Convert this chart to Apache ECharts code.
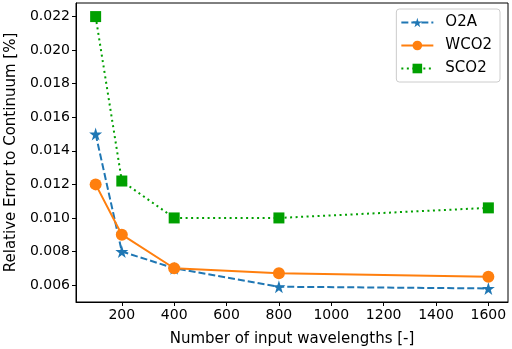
<!DOCTYPE html>
<html>
<head>
<meta charset="utf-8">
<script src="https://cdn.jsdelivr.net/npm/echarts@6/dist/echarts.min.js"></script>
<style>
  html, body { margin: 0; padding: 0; background: #fff; }
  #chart { width: 512px; height: 349px; }
</style>
</head>
<body>
<div id="chart"></div>
<script>
  // data
  const wavelengths = [100, 200, 400, 800, 1600];
  const o2a = [0.015, 0.008, 0.007, 0.0059, 0.0058];
  const wco2 = [0.012, 0.009, 0.007, 0.0067, 0.0065];
  const sco2 = [0.022, 0.0122, 0.010, 0.010, 0.0106];
  const xTicks = [200, 400, 600, 800, 1000, 1200, 1400, 1600];
  const yTicks = [0.006, 0.008, 0.010, 0.012, 0.014, 0.016, 0.018, 0.020, 0.022];

  const starPath = 'path://M50,0 L61,35 L98,35 L68,57 L79,91 L50,70 L21,91 L32,57 L2,35 L39,35 Z';
  const font = 'DejaVu Sans';

  const pairs = (ys) => wavelengths.map((x, i) => [x, ys[i]]);

  const chart = echarts.init(document.getElementById('chart'));

  const option = {
    animation: false,
    textStyle: { fontFamily: font },
    grid: {
      left: 76, right: 4, top: 3, bottom: 47,
      outerBoundsMode: 'none',
      containLabel: false,
      show: true, borderColor: '#000', borderWidth: 1,
    },
    legend: {
      orient: 'vertical',
      right: 12,
      top: 9,
      itemWidth: 32,
      itemHeight: 12,
      itemGap: 8,
      padding: [6, 8, 6, 4],
      borderColor: '#ccc',
      borderWidth: 1,
      borderRadius: 3,
      textStyle: { fontFamily: font, fontSize: 15, color: '#000', padding: [0, 0, 0, 7] },
      data: ['O2A', 'WCO2', 'SCO2'],
    },
    xAxis: {
      type: 'value',
      min: 25,
      max: 1675,
      name: 'Number of input wavelengths [-]',
      nameLocation: 'middle',
      nameGap: 30,
      nameTextStyle: { fontFamily: font, fontSize: 15, color: '#000' },
      axisLine: { show: true, lineStyle: { color: '#000', width: 1 } },
      axisTick: { show: true, length: 4, customValues: xTicks, lineStyle: { color: '#000' } },
      axisLabel: {
        customValues: xTicks, fontSize: 14, color: '#000', margin: 6,
        formatter: (v) => String(v),
      },
      splitLine: { show: false },
    },
    yAxis: {
      type: 'value',
      min: 0.00499,
      max: 0.02281,
      name: 'Relative Error to Continuum [%]',
      nameLocation: 'middle',
      nameGap: 57,
      nameTextStyle: { fontFamily: font, fontSize: 15, color: '#000' },
      axisLine: { show: true, lineStyle: { color: '#000', width: 1 } },
      axisTick: { show: true, length: 4, customValues: yTicks, lineStyle: { color: '#000' } },
      axisLabel: {
        customValues: yTicks, fontSize: 14, color: '#000', margin: 6,
        formatter: (v) => v.toFixed(3),
      },
      splitLine: { show: false },
    },
    series: [
      {
        name: 'O2A',
        type: 'line',
        data: pairs(o2a),
        symbol: starPath,
        symbolSize: 13,
        color: '#1f77b4',
        lineStyle: { width: 2, type: [7, 3] },
        itemStyle: { color: '#1f77b4' },
      },
      {
        name: 'WCO2',
        type: 'line',
        data: pairs(wco2),
        symbol: 'circle',
        symbolSize: 12,
        color: '#ff7f0e',
        lineStyle: { width: 2 },
        itemStyle: { color: '#ff7f0e' },
      },
      {
        name: 'SCO2',
        type: 'line',
        data: pairs(sco2),
        symbol: 'rect',
        symbolSize: 11,
        color: '#00a000',
        lineStyle: { width: 2, type: [2, 3.5] },
        itemStyle: { color: '#00a000' },
      },
    ],
  };

  chart.setOption(option);
</script>
</body>
</html>
